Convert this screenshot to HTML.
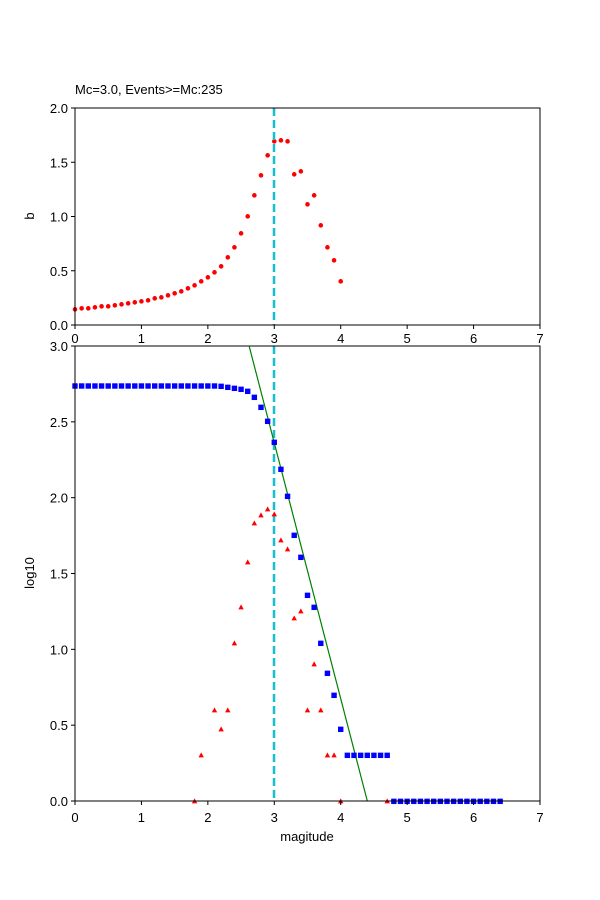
<!DOCTYPE html>
<html><head><meta charset="utf-8"><style>body{margin:0;background:#fff}svg{display:block}text{font-family:"Liberation Sans","DejaVu Sans",sans-serif;font-size:13px;fill:#000}</style></head>
<body>
<svg id="s" width="600" height="900" xmlns="http://www.w3.org/2000/svg">
<rect width="600" height="900" fill="#fff"/>
<text x="75" y="94">Mc=3.0, Events&gt;=Mc:235</text>
<g id="gtop"></g>
<g id="gbot"></g>
<rect x="75" y="108" width="465" height="217" fill="none" stroke="#000" stroke-width="1"/>
<rect x="75" y="346" width="465" height="455" fill="none" stroke="#000" stroke-width="1"/>
<text x="34" y="216" transform="rotate(-90 34 216)" text-anchor="middle">b</text>
<text x="34" y="573" transform="rotate(-90 34 573)" text-anchor="middle">log10</text>
<text x="307" y="841" text-anchor="middle">magitude</text>
</svg>
<script>
(function(){
var NS="http://www.w3.org/2000/svg",s=document.getElementById('s');
function el(n,a,p){var e=document.createElementNS(NS,n);for(var k in a)e.setAttribute(k,a[k]);(p||s).appendChild(e);return e;}
function X(m){return 75+m*465/7;}
var gt=document.getElementById('gtop'),gb=document.getElementById('gbot');
for(var i=0;i<=7;i++){var x=X(i);
 el('line',{x1:x,y1:325,x2:x,y2:329,stroke:'#000'});
 var t=el('text',{x:x,y:343,'text-anchor':'middle'});t.textContent=i;
 el('line',{x1:x,y1:801,x2:x,y2:805,stroke:'#000'});
 t=el('text',{x:x,y:822,'text-anchor':'middle'});t.textContent=i;}
['0.0','0.5','1.0','1.5','2.0'].forEach(function(l,i){var y=325-i*54.25;
 el('line',{x1:71,y1:y,x2:75,y2:y,stroke:'#000'});var t=el('text',{x:68,y:y+5,'text-anchor':'end'});t.textContent=l;});
['0.0','0.5','1.0','1.5','2.0','2.5','3.0'].forEach(function(l,i){var y=801-i*75.83;
 el('line',{x1:71,y1:y,x2:75,y2:y,stroke:'#000'});var t=el('text',{x:68,y:y+5,'text-anchor':'end'});t.textContent=l;});
var tb=[688,685,685,682,679,679,676,673,670,667,664,661,655,652,646,640,634,625,616,604,592,577,559,532,502,460,409,346,286,226,184,181,184,283,274,373,346,436,502,541,604];
tb.forEach(function(v,i){el('circle',{cx:X(i/10),cy:80+v/3,r:2.3,fill:'red'},gt);});
el('line',{x1:274,y1:108,x2:274,y2:325,stroke:'#17becf','stroke-width':2.5,'stroke-dasharray':'8,4'},gt);
el('line',{x1:274,y1:346,x2:274,y2:801,stroke:'#17becf','stroke-width':2.5,'stroke-dasharray':'8,4'},gb);
el('line',{x1:249.3,y1:346.7,x2:367.3,y2:801,stroke:'green','stroke-width':1.2},gb);
var blue={};for(i=0;i<22;i++)blue[i]=138;
var bv={22:139,23:142,24:145,25:148,26:154,27:172,28:202,29:244,30:307,31:388,32:469,33:586,34:652,35:766,36:802,37:910,38:1000,39:1066,40:1168};
for(var k in bv)blue[k]=bv[k];for(i=41;i<=47;i++)blue[i]=1246;for(i=48;i<=64;i++)blue[i]=1384;
for(k in blue){var xx=X(k/10),y=340+blue[k]/3;el('rect',{x:xx-2.7,y:y-2.7,width:5.4,height:5.4,fill:'blue'},gb);}
var red={18:1384,19:1246,21:1111,22:1168,23:1111,24:910,25:802,26:667,27:550,28:526,29:508,30:523,31:601,32:628,33:835,34:814,35:1111,36:973,37:1111,38:1246,39:1246,40:1384,47:1384};
for(k in red){var xx=X(k/10),y=340+red[k]/3;el('polygon',{points:xx+','+(y-3)+' '+(xx-2.7)+','+(y+2)+' '+(xx+2.7)+','+(y+2),fill:'red'},gb);}
})();
</script>
</body></html>
